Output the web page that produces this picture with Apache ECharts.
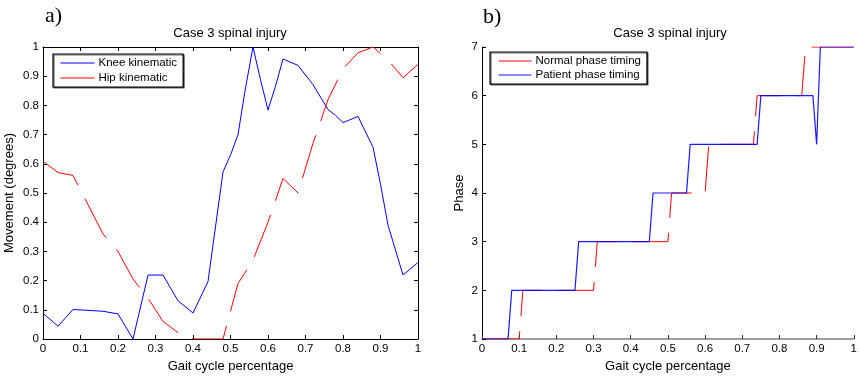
<!DOCTYPE html>
<html>
<head>
<meta charset="utf-8">
<script src="https://cdn.jsdelivr.net/npm/echarts@6/dist/echarts.min.js"></script>
<style>
  html, body { margin: 0; padding: 0; background: #fff; }
  #chart { width: 860px; height: 378px; }
</style>
</head>
<body>
<div id="chart"></div>
<script>
// Panel a) — knee and hip kinematics over the gait cycle
const kneeT = [0, 0.04, 0.08, 0.12, 0.16, 0.2, 0.24, 0.28, 0.32, 0.36, 0.4, 0.44, 0.48, 0.5, 0.52, 0.54, 0.56, 0.58, 0.6, 0.62, 0.64, 0.68, 0.72, 0.76, 0.78, 0.8, 0.84, 0.88, 0.9, 0.92, 0.96, 1.0];
const kneeV = [0.088, 0.044, 0.101, 0.098, 0.095, 0.086, 0, 0.219, 0.219, 0.131, 0.089, 0.197, 0.572, 0.63, 0.70, 0.86, 1.0, 0.888, 0.784, 0.866, 0.959, 0.937, 0.871, 0.786, 0.766, 0.741, 0.762, 0.657, 0.53, 0.39, 0.219, 0.262];
const hipT = [0, 0.04, 0.08, 0.12, 0.16, 0.2, 0.24, 0.28, 0.32, 0.36, 0.4, 0.44, 0.48, 0.52, 0.56, 0.6, 0.64, 0.68, 0.72, 0.76, 0.8, 0.84, 0.88, 0.92, 0.96, 1.0];
const hipV = [0.609, 0.57, 0.56, 0.46, 0.36, 0.30, 0.205, 0.14, 0.06, 0.022, 0, 0, 0, 0.19, 0.27, 0.40, 0.55, 0.50, 0.67, 0.82, 0.925, 0.98, 1.0, 0.955, 0.895, 0.94];

// Panel b) — gait phase index, normal vs patient
const normalT = [0, 0.1, 0.11, 0.3, 0.31, 0.5, 0.51, 0.6, 0.61, 0.73, 0.74, 0.86, 0.87, 1.0];
const normalPhase = [1, 1, 2, 2, 3, 3, 4, 4, 5, 5, 6, 6, 7, 7];
const patientT = [0, 0.07, 0.08, 0.25, 0.26, 0.45, 0.46, 0.55, 0.56, 0.74, 0.75, 0.89, 0.9, 0.91, 1.0];
const patientPhase = [1, 1, 2, 2, 3, 3, 4, 4, 5, 5, 6, 6, 5, 7, 7];

const panelTitle = 'Case 3 spinal injury';
const xName = 'Gait cycle percentage';

const zip = (xs, ys) => xs.map((x, i) => [x, ys[i]]);

const FONT = 'Liberation Sans, Arial, Helvetica, sans-serif';
const SERIF = '"Liberation Serif", "Times New Roman", serif';
const BLACK = '#000';

function valueAxis(extra) {
  return Object.assign({
    type: 'value',
    axisLine: { show: true, onZero: false, lineStyle: { color: BLACK, width: 1 } },
    axisTick: { show: true, inside: true, length: 4, lineStyle: { color: BLACK } },
    axisLabel: { show: true, color: BLACK, fontSize: 11.5, fontFamily: FONT, margin: 4 },
    splitLine: { show: false },
    nameTextStyle: { color: BLACK, fontSize: 13, fontFamily: FONT }
  }, extra);
}
function boxAxis(extra) {
  const a = valueAxis(extra);
  a.axisLabel = { show: false };
  return a;
}

function legendBox(names, left, top, itemGap, itemWidth, padLeft) {
  return {
    data: names,
    orient: 'vertical', left: left, top: top,
    padding: [3, 6, 3, padLeft], itemGap: itemGap, itemWidth: itemWidth, itemHeight: 14,
    borderColor: BLACK, borderWidth: 1.2, borderRadius: 0, backgroundColor: '#fff',
    shadowColor: 'rgba(0,0,0,0.6)', shadowOffsetX: 1, shadowOffsetY: 1, shadowBlur: 0,
    textStyle: { color: BLACK, fontSize: 11.5, fontFamily: FONT, padding: [0, 0, 0, -1] },
    lineStyle: { type: 'solid', width: 1 },
    itemStyle: { opacity: 0 },
    selectedMode: false
  };
}

const chart = echarts.init(document.getElementById('chart'), null, { renderer: 'canvas' });

const option = {
  animation: false,
  backgroundColor: '#fff',
  textStyle: { fontFamily: FONT },
  grid: [
    { left: 43, right: 442, top: 47, bottom: 36 },
    { left: 482, right: 2, top: 47, bottom: 36 }
  ],
  xAxis: [
    valueAxis({ gridIndex: 0, position: 'bottom', min: 0, max: 1, interval: 0.1,
      name: xName, nameLocation: 'middle', nameGap: 21 }),
    boxAxis({ gridIndex: 0, position: 'top', min: 0, max: 1, interval: 0.1 }),
    valueAxis({ gridIndex: 1, position: 'bottom', min: 0, max: 1, interval: 0.1,
      name: xName, nameLocation: 'middle', nameGap: 21,
      axisLine: { show: true, onZero: false, lineStyle: { color: '#808080', width: 1.5 } },
      axisTick: { show: true, inside: true, length: 4, lineStyle: { color: '#333' } } })
  ],
  yAxis: [
    valueAxis({ gridIndex: 0, position: 'left', min: 0, max: 1, interval: 0.1,
      name: 'Movement (degrees)', nameLocation: 'middle', nameGap: 27 }),
    boxAxis({ gridIndex: 0, position: 'right', min: 0, max: 1, interval: 0.1 }),
    valueAxis({ gridIndex: 1, position: 'left', min: 1, max: 7, interval: 1,
      name: 'Phase', nameLocation: 'middle', nameGap: 16 })
  ],
  legend: [
    legendBox(['Knee kinematic', 'Hip kinematic'], 53, 54, 3, 34, 7),
    legendBox(['Normal phase timing', 'Patient phase timing'], 490, 52, 2, 33, 8)
  ],
  series: [
    {
      name: 'Knee kinematic', type: 'line', xAxisIndex: 0, yAxisIndex: 0,
      data: zip(kneeT, kneeV), symbol: 'none',
      lineStyle: { color: '#0000ff', width: 1 }, itemStyle: { color: '#0000ff' }
    },
    {
      name: 'Hip kinematic', type: 'line', xAxisIndex: 0, yAxisIndex: 0,
      data: zip(hipT, hipV), symbol: 'none',
      lineStyle: { color: '#ff0000', width: 1, type: [45, 15] }, itemStyle: { color: '#ff0000' }
    },
    {
      name: 'Normal phase timing', type: 'line', xAxisIndex: 2, yAxisIndex: 2,
      data: zip(normalT, normalPhase), symbol: 'none',
      lineStyle: { color: '#ff0000', width: 1, type: [45, 15] }, itemStyle: { color: '#ff0000' }
    },
    {
      name: 'Patient phase timing', type: 'line', xAxisIndex: 2, yAxisIndex: 2,
      data: zip(patientT, patientPhase), symbol: 'none',
      lineStyle: { color: '#0000ff', width: 1.2, opacity: 0.9 }, itemStyle: { color: '#0000ff' }
    }
  ],
  graphic: [
    { type: 'text', x: 45, y: 16, style: { text: 'a)', font: '22px ' + SERIF, fill: BLACK, align: 'left', verticalAlign: 'middle' } },
    { type: 'text', x: 483, y: 17, style: { text: 'b)', font: '22px ' + SERIF, fill: BLACK, align: 'left', verticalAlign: 'middle' } },
    { type: 'text', x: 230, y: 33, style: { text: panelTitle, font: '13px ' + FONT, fill: BLACK, align: 'center', verticalAlign: 'middle' } },
    { type: 'text', x: 670, y: 33, style: { text: panelTitle, font: '13px ' + FONT, fill: BLACK, align: 'center', verticalAlign: 'middle' } }
  ]
};

chart.setOption(option);
</script>
</body>
</html>
